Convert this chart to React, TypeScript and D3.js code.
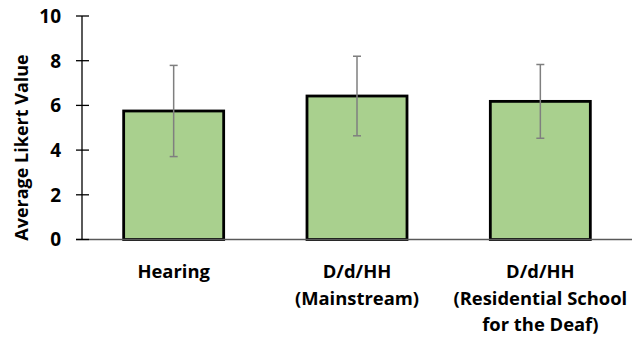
import React from "react";
import * as d3 from "d3";

const categories: string[][] = [
  ["Hearing"],
  ["D/d/HH", "(Mainstream)"],
  ["D/d/HH", "(Residential School", "for the Deaf)"],
];
const means: number[] = [5.75, 6.42, 6.18];
const errors: number[] = [2.04, 1.78, 1.65];
const yTicks: number[] = [0, 2, 4, 6, 8, 10];
const yTitle = "Average Likert Value";

const W = 632;
const H = 339;
const left = 82;
const right = 632;
const top = 16;
const bottom = 239.5;
const font = "'Open Sans', sans-serif";

export default function App() {
  const y = d3.scaleLinear().domain([0, 10]).range([bottom, top]);
  const x = d3
    .scaleBand<number>()
    .domain(categories.map((_, i) => i))
    .range([left, right])
    .paddingInner(0.4545)
    .paddingOuter(0.4545 / 2);
  const bw = x.bandwidth();

  return (
    <svg
      width={W}
      height={H}
      style={{ position: "fixed", left: 0, top: 0, background: "#fff" }}
    >
      <rect x={0} y={0} width={W} height={H} fill="#fff" />
      {/* bars */}
      {means.map((m, i) => (
        <rect
          key={"b" + i}
          x={x(i)!}
          y={y(m)}
          width={bw}
          height={y(0) - y(m)}
          fill="#a9d08e"
          stroke="#000"
          strokeWidth={2.8}
        />
      ))}
      {/* x axis */}
      <line x1={76} x2={right} y1={bottom} y2={bottom} stroke="#595959" strokeWidth={1.3} />
      {/* y axis */}
      <line x1={left} x2={left} y1={top} y2={bottom} stroke="#000" strokeWidth={1.3} />
      {yTicks.map((t) => (
        <g key={"t" + t}>
          <line x1={76} x2={89} y1={y(t)} y2={y(t)} stroke="#000" strokeWidth={1.3} />
          <text
            x={61}
            y={y(t)}
            dy="0.36em"
            textAnchor="end"
            fontFamily={font}
            fontWeight="bold"
            fontSize={19}
            fill="#000"
          >
            {t}
          </text>
        </g>
      ))}
      {/* error bars */}
      {means.map((m, i) => {
        const cx = x(i)! + bw / 2;
        const hi = y(m + errors[i]);
        const lo = y(m - errors[i]);
        return (
          <g key={"e" + i} stroke="#7f7f7f" strokeWidth={1.5}>
            <line x1={cx} x2={cx} y1={hi} y2={lo} />
            <line x1={cx - 4} x2={cx + 4} y1={hi} y2={hi} />
            <line x1={cx - 4} x2={cx + 4} y1={lo} y2={lo} />
          </g>
        );
      })}
      {/* x labels */}
      {categories.map((lines, i) => (
        <text
          key={"c" + i}
          x={x(i)! + bw / 2}
          y={278}
          textAnchor="middle"
          fontFamily={font}
          fontWeight="bold"
          fontSize={18.4}
          fill="#000"
        >
          {lines.map((l, j) => (
            <tspan key={j} x={x(i)! + bw / 2} y={278 + j * 26.5}>
              {l}
            </tspan>
          ))}
        </text>
      ))}
      {/* y title */}
      <text
        transform={`translate(27.5, 147.5) rotate(-90)`}
        textAnchor="middle"
        fontFamily={font}
        fontWeight="bold"
        fontSize={18}
        fill="#000"
      >
        {yTitle}
      </text>
    </svg>
  );
}
